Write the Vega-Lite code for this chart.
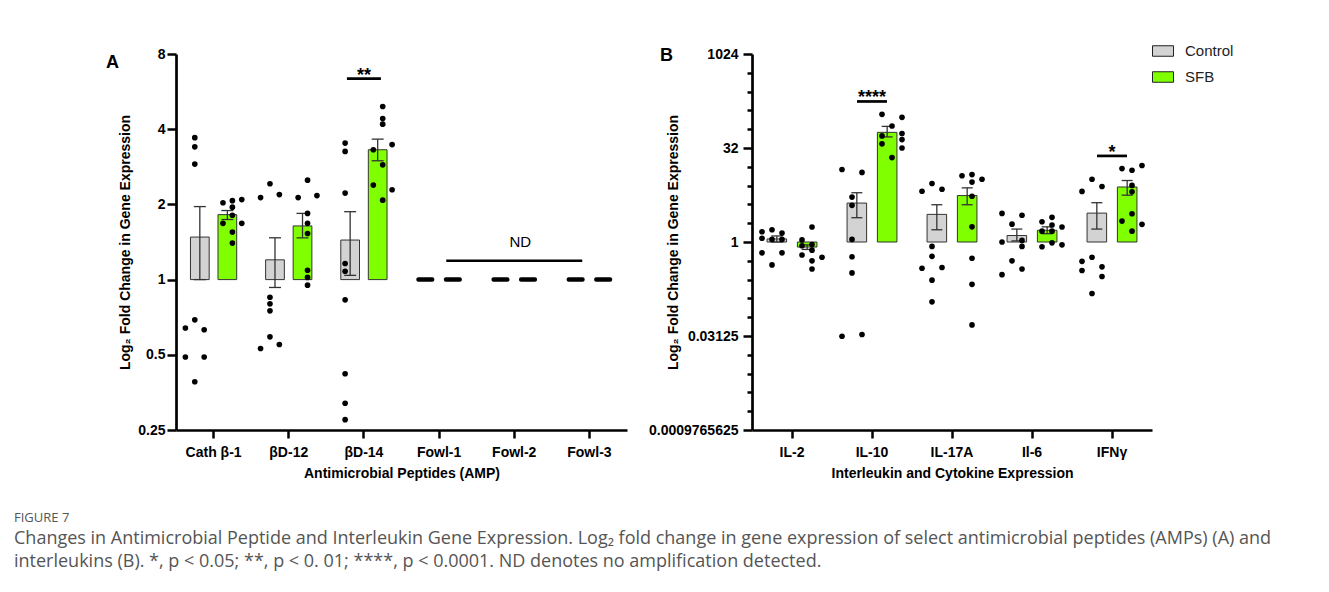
{
  "$schema": "https://vega.github.io/schema/vega-lite/v6.json",
  "padding": {"left": 14, "top": 40, "right": 5, "bottom": 5},
  "background": "white",
  "config": {
    "view": {"stroke": null},
    "axis": {
      "domainColor": "black", "domainWidth": 2.7, "domainOpacity": 1, "tickColor": "black", "tickWidth": 2.5, "tickOpacity": 1,
      "labelFont": "Liberation Sans", "labelFontWeight": "bold", "labelFontSize": 14, "labelColor": "black",
      "titleFont": "Liberation Sans", "titleFontWeight": "bold", "titleFontSize": 14, "titleColor": "black",
      "grid": false
    }
  },
  "datasets": {
    "ampBars": [
      {"gene": "Cath β-1", "group": "Control", "mean": 1.48, "lo": 1.0, "hi": 1.96},
      {"gene": "Cath β-1", "group": "SFB", "mean": 1.82, "lo": 1.74, "hi": 1.89},
      {"gene": "βD-12", "group": "Control", "mean": 1.2, "lo": 0.93, "hi": 1.47},
      {"gene": "βD-12", "group": "SFB", "mean": 1.64, "lo": 1.47, "hi": 1.84},
      {"gene": "βD-14", "group": "Control", "mean": 1.44, "lo": 1.04, "hi": 1.87},
      {"gene": "βD-14", "group": "SFB", "mean": 3.31, "lo": 2.99, "hi": 3.65}
    ],
    "ampND": [
      {"gene": "Fowl-1", "group": "Control", "v": 1}, {"gene": "Fowl-1", "group": "SFB", "v": 1},
      {"gene": "Fowl-2", "group": "Control", "v": 1}, {"gene": "Fowl-2", "group": "SFB", "v": 1},
      {"gene": "Fowl-3", "group": "Control", "v": 1}, {"gene": "Fowl-3", "group": "SFB", "v": 1}
    ],
    "ampPts": [
      {"gene": "Cath β-1", "group": "Control", "col": "C", "v": 3.7},
      {"gene": "Cath β-1", "group": "Control", "col": "C", "v": 3.4},
      {"gene": "Cath β-1", "group": "Control", "col": "C", "v": 2.9},
      {"gene": "Cath β-1", "group": "Control", "col": "L", "v": 0.64},
      {"gene": "Cath β-1", "group": "Control", "col": "C", "v": 0.69},
      {"gene": "Cath β-1", "group": "Control", "col": "R", "v": 0.63},
      {"gene": "Cath β-1", "group": "Control", "col": "L", "v": 0.49},
      {"gene": "Cath β-1", "group": "Control", "col": "R", "v": 0.49},
      {"gene": "Cath β-1", "group": "Control", "col": "C", "v": 0.39},
      {"gene": "Cath β-1", "group": "SFB", "col": "R", "v": 2.09},
      {"gene": "Cath β-1", "group": "SFB", "col": "C", "v": 2.07},
      {"gene": "Cath β-1", "group": "SFB", "col": "L", "v": 2.03},
      {"gene": "Cath β-1", "group": "SFB", "col": "C", "v": 1.95},
      {"gene": "Cath β-1", "group": "SFB", "col": "C", "v": 1.81},
      {"gene": "Cath β-1", "group": "SFB", "col": "L", "v": 1.68},
      {"gene": "Cath β-1", "group": "SFB", "col": "R", "v": 1.68},
      {"gene": "Cath β-1", "group": "SFB", "col": "C", "v": 1.55},
      {"gene": "Cath β-1", "group": "SFB", "col": "C", "v": 1.4},
      {"gene": "βD-12", "group": "Control", "col": "C", "v": 2.42},
      {"gene": "βD-12", "group": "Control", "col": "L", "v": 2.13},
      {"gene": "βD-12", "group": "Control", "col": "R", "v": 2.19},
      {"gene": "βD-12", "group": "Control", "col": "C", "v": 0.85},
      {"gene": "βD-12", "group": "Control", "col": "C", "v": 0.8},
      {"gene": "βD-12", "group": "Control", "col": "C", "v": 0.75},
      {"gene": "βD-12", "group": "Control", "col": "C", "v": 0.59},
      {"gene": "βD-12", "group": "Control", "col": "L", "v": 0.53},
      {"gene": "βD-12", "group": "Control", "col": "R", "v": 0.55},
      {"gene": "βD-12", "group": "SFB", "col": "C", "v": 2.5},
      {"gene": "βD-12", "group": "SFB", "col": "L", "v": 2.13},
      {"gene": "βD-12", "group": "SFB", "col": "R", "v": 2.17},
      {"gene": "βD-12", "group": "SFB", "col": "C", "v": 1.84},
      {"gene": "βD-12", "group": "SFB", "col": "C", "v": 1.68},
      {"gene": "βD-12", "group": "SFB", "col": "C", "v": 1.53},
      {"gene": "βD-12", "group": "SFB", "col": "C", "v": 1.09},
      {"gene": "βD-12", "group": "SFB", "col": "C", "v": 1.02},
      {"gene": "βD-12", "group": "SFB", "col": "C", "v": 0.95},
      {"gene": "βD-14", "group": "Control", "col": "C", "v": 3.52},
      {"gene": "βD-14", "group": "Control", "col": "C", "v": 3.26},
      {"gene": "βD-14", "group": "Control", "col": "C", "v": 2.22},
      {"gene": "βD-14", "group": "Control", "col": "C", "v": 1.16},
      {"gene": "βD-14", "group": "Control", "col": "C", "v": 1.08},
      {"gene": "βD-14", "group": "Control", "col": "C", "v": 0.83},
      {"gene": "βD-14", "group": "Control", "col": "C", "v": 0.42},
      {"gene": "βD-14", "group": "Control", "col": "C", "v": 0.32},
      {"gene": "βD-14", "group": "Control", "col": "C", "v": 0.275},
      {"gene": "βD-14", "group": "SFB", "col": "C", "v": 4.93},
      {"gene": "βD-14", "group": "SFB", "col": "C", "v": 4.41},
      {"gene": "βD-14", "group": "SFB", "col": "C", "v": 4.19},
      {"gene": "βD-14", "group": "SFB", "col": "L", "v": 3.31},
      {"gene": "βD-14", "group": "SFB", "col": "R", "v": 3.47},
      {"gene": "βD-14", "group": "SFB", "col": "C", "v": 2.88},
      {"gene": "βD-14", "group": "SFB", "col": "L", "v": 2.39},
      {"gene": "βD-14", "group": "SFB", "col": "R", "v": 2.29},
      {"gene": "βD-14", "group": "SFB", "col": "C", "v": 2.08}
    ],
    "ilBars": [
      {"gene": "IL-2", "group": "Control", "mean": 1.12, "lo": 1.0, "hi": 1.25},
      {"gene": "IL-2", "group": "SFB", "mean": 0.83, "lo": 0.76, "hi": 0.9},
      {"gene": "IL-10", "group": "Control", "mean": 4.2, "lo": 2.45, "hi": 6.15},
      {"gene": "IL-10", "group": "SFB", "mean": 57, "lo": 48.2, "hi": 71},
      {"gene": "IL-17A", "group": "Control", "mean": 2.77, "lo": 1.57, "hi": 3.95},
      {"gene": "IL-17A", "group": "SFB", "mean": 5.54, "lo": 3.95, "hi": 7.36},
      {"gene": "Il-6", "group": "Control", "mean": 1.27, "lo": 1.04, "hi": 1.61},
      {"gene": "Il-6", "group": "SFB", "mean": 1.54, "lo": 1.36, "hi": 1.75},
      {"gene": "IFNγ", "group": "Control", "mean": 2.9, "lo": 1.61, "hi": 4.26},
      {"gene": "IFNγ", "group": "SFB", "mean": 7.6, "lo": 5.62, "hi": 9.65}
    ],
    "ilPts": [
      {"gene": "IL-2", "group": "Control", "col": "L", "v": 1.46},
      {"gene": "IL-2", "group": "Control", "col": "C", "v": 1.57},
      {"gene": "IL-2", "group": "Control", "col": "R", "v": 1.39},
      {"gene": "IL-2", "group": "Control", "col": "L", "v": 1.15},
      {"gene": "IL-2", "group": "Control", "col": "C", "v": 1.1},
      {"gene": "IL-2", "group": "Control", "col": "R", "v": 1.1},
      {"gene": "IL-2", "group": "Control", "col": "L", "v": 0.67},
      {"gene": "IL-2", "group": "Control", "col": "R", "v": 0.67},
      {"gene": "IL-2", "group": "Control", "col": "C", "v": 0.43},
      {"gene": "IL-2", "group": "SFB", "col": "C", "v": 1.74},
      {"gene": "IL-2", "group": "SFB", "col": "L", "v": 1.08},
      {"gene": "IL-2", "group": "SFB", "col": "C", "v": 0.91},
      {"gene": "IL-2", "group": "SFB", "col": "L", "v": 0.87},
      {"gene": "IL-2", "group": "SFB", "col": "C", "v": 0.74},
      {"gene": "IL-2", "group": "SFB", "col": "L", "v": 0.62},
      {"gene": "IL-2", "group": "SFB", "col": "R", "v": 0.57},
      {"gene": "IL-2", "group": "SFB", "col": "C", "v": 0.5},
      {"gene": "IL-2", "group": "SFB", "col": "C", "v": 0.37},
      {"gene": "IL-10", "group": "Control", "col": "L", "v": 14.5},
      {"gene": "IL-10", "group": "Control", "col": "R", "v": 13.0},
      {"gene": "IL-10", "group": "Control", "col": "C", "v": 5.24},
      {"gene": "IL-10", "group": "Control", "col": "C", "v": 3.86},
      {"gene": "IL-10", "group": "Control", "col": "C", "v": 1.1},
      {"gene": "IL-10", "group": "Control", "col": "C", "v": 0.58},
      {"gene": "IL-10", "group": "Control", "col": "C", "v": 0.32},
      {"gene": "IL-10", "group": "Control", "col": "L", "v": 0.031},
      {"gene": "IL-10", "group": "Control", "col": "R", "v": 0.033},
      {"gene": "IL-10", "group": "SFB", "col": "L", "v": 110.6},
      {"gene": "IL-10", "group": "SFB", "col": "R", "v": 99},
      {"gene": "IL-10", "group": "SFB", "col": "C", "v": 72},
      {"gene": "IL-10", "group": "SFB", "col": "R", "v": 54.6},
      {"gene": "IL-10", "group": "SFB", "col": "L", "v": 49.9},
      {"gene": "IL-10", "group": "SFB", "col": "R", "v": 43.7},
      {"gene": "IL-10", "group": "SFB", "col": "L", "v": 37.3},
      {"gene": "IL-10", "group": "SFB", "col": "R", "v": 32},
      {"gene": "IL-10", "group": "SFB", "col": "C", "v": 22.5},
      {"gene": "IL-17A", "group": "Control", "col": "C", "v": 8.63},
      {"gene": "IL-17A", "group": "Control", "col": "L", "v": 6.5},
      {"gene": "IL-17A", "group": "Control", "col": "R", "v": 7.0},
      {"gene": "IL-17A", "group": "Control", "col": "C", "v": 0.85},
      {"gene": "IL-17A", "group": "Control", "col": "C", "v": 0.59},
      {"gene": "IL-17A", "group": "Control", "col": "L", "v": 0.38},
      {"gene": "IL-17A", "group": "Control", "col": "R", "v": 0.39},
      {"gene": "IL-17A", "group": "Control", "col": "C", "v": 0.245},
      {"gene": "IL-17A", "group": "Control", "col": "C", "v": 0.11},
      {"gene": "IL-17A", "group": "SFB", "col": "L", "v": 11.5},
      {"gene": "IL-17A", "group": "SFB", "col": "C", "v": 12.0},
      {"gene": "IL-17A", "group": "SFB", "col": "R", "v": 10.1},
      {"gene": "IL-17A", "group": "SFB", "col": "C", "v": 9.1},
      {"gene": "IL-17A", "group": "SFB", "col": "C", "v": 5.4},
      {"gene": "IL-17A", "group": "SFB", "col": "C", "v": 1.75},
      {"gene": "IL-17A", "group": "SFB", "col": "C", "v": 0.55},
      {"gene": "IL-17A", "group": "SFB", "col": "C", "v": 0.21},
      {"gene": "IL-17A", "group": "SFB", "col": "C", "v": 0.047},
      {"gene": "Il-6", "group": "Control", "col": "L", "v": 2.87},
      {"gene": "Il-6", "group": "Control", "col": "R", "v": 2.68},
      {"gene": "Il-6", "group": "Control", "col": "C", "v": 1.93},
      {"gene": "Il-6", "group": "Control", "col": "L", "v": 1.0},
      {"gene": "Il-6", "group": "Control", "col": "R", "v": 1.06},
      {"gene": "Il-6", "group": "Control", "col": "R", "v": 0.85},
      {"gene": "Il-6", "group": "Control", "col": "C", "v": 0.5},
      {"gene": "Il-6", "group": "Control", "col": "R", "v": 0.37},
      {"gene": "Il-6", "group": "Control", "col": "L", "v": 0.3},
      {"gene": "Il-6", "group": "SFB", "col": "C", "v": 2.48},
      {"gene": "Il-6", "group": "SFB", "col": "L", "v": 2.11},
      {"gene": "Il-6", "group": "SFB", "col": "R", "v": 1.74},
      {"gene": "Il-6", "group": "SFB", "col": "C", "v": 1.87},
      {"gene": "Il-6", "group": "SFB", "col": "L", "v": 1.49},
      {"gene": "Il-6", "group": "SFB", "col": "C", "v": 1.49},
      {"gene": "Il-6", "group": "SFB", "col": "C", "v": 0.97},
      {"gene": "Il-6", "group": "SFB", "col": "R", "v": 0.9},
      {"gene": "Il-6", "group": "SFB", "col": "L", "v": 0.84},
      {"gene": "IFNγ", "group": "Control", "col": "C", "v": 10.1},
      {"gene": "IFNγ", "group": "Control", "col": "L", "v": 6.45},
      {"gene": "IFNγ", "group": "Control", "col": "R", "v": 7.73},
      {"gene": "IFNγ", "group": "Control", "col": "C", "v": 0.57},
      {"gene": "IFNγ", "group": "Control", "col": "L", "v": 0.49},
      {"gene": "IFNγ", "group": "Control", "col": "R", "v": 0.4},
      {"gene": "IFNγ", "group": "Control", "col": "L", "v": 0.35},
      {"gene": "IFNγ", "group": "Control", "col": "R", "v": 0.28},
      {"gene": "IFNγ", "group": "Control", "col": "C", "v": 0.15},
      {"gene": "IFNγ", "group": "SFB", "col": "L", "v": 15},
      {"gene": "IFNγ", "group": "SFB", "col": "C", "v": 14.1},
      {"gene": "IFNγ", "group": "SFB", "col": "R", "v": 16.8},
      {"gene": "IFNγ", "group": "SFB", "col": "C", "v": 8.06},
      {"gene": "IFNγ", "group": "SFB", "col": "C", "v": 6.36},
      {"gene": "IFNγ", "group": "SFB", "col": "C", "v": 2.83},
      {"gene": "IFNγ", "group": "SFB", "col": "L", "v": 2.16},
      {"gene": "IFNγ", "group": "SFB", "col": "R", "v": 1.92},
      {"gene": "IFNγ", "group": "SFB", "col": "C", "v": 1.49}
    ]
  },
  "title": {
    "text": "FIGURE 7",
    "subtitle": [
      "Changes in Antimicrobial Peptide and Interleukin Gene Expression. Log₂ fold change in gene expression of select antimicrobial peptides (AMPs) (A) and",
      "interleukins (B). *, p < 0.05; **, p < 0. 01; ****, p < 0.0001. ND denotes no amplification detected."
    ],
    "orient": "bottom", "anchor": "start", "frame": "bounds", "dx": -92, "offset": 32,
    "font": "Open Sans", "fontSize": 13, "fontWeight": "normal", "color": "#555555",
    "subtitleFont": "Open Sans", "subtitleFontSize": 18, "subtitleColor": "#555555",
    "subtitleLineHeight": 23, "subtitlePadding": 5
  },
  "spacing": 21,
  "resolve": {"scale": {"fill": "independent"}, "legend": {"fill": "independent"}},
  "hconcat": [
    {
      "width": 451, "height": 376,
      "title": {"text": "A", "anchor": "start", "frame": "group", "font": "Liberation Sans", "fontSize": 18, "fontWeight": "bold", "color": "black", "baseline": "alphabetic", "offset": 0, "dx": -70, "dy": 39},
      "resolve": {"scale": {"xOffset": "independent"}},
      "layer": [
        {
          "data": {"name": "ampBars"},
          "mark": {"type": "bar", "stroke": "#333333", "strokeWidth": 1},
          "encoding": {
            "x": {"field": "gene", "type": "nominal", "title": "Antimicrobial Peptides (AMP)",
              "scale": {"domain": ["Cath β-1", "βD-12", "βD-14", "Fowl-1", "Fowl-2", "Fowl-3"], "paddingInner": 0, "paddingOuter": 0},
              "axis": {"labelAngle": 0, "tickSize": 8, "labelPadding": 7, "titlePadding": 7, "domainColor": "black", "tickColor": "black"}},
            "xOffset": {"field": "group", "type": "nominal", "scale": {"domain": ["Control", "SFB"], "paddingInner": 0.32, "paddingOuter": 0.525}},
            "y": {"field": "mean", "type": "quantitative", "title": "Log₂ Fold Change in Gene Expression",
              "scale": {"type": "log", "base": 2, "domain": [0.25, 8], "nice": false},
              "axis": {"values": [0.25, 0.5, 1, 2, 4, 8], "labelExpr": "'' + datum.value", "tickSize": 9, "labelPadding": 2, "titleX": -51, "titleBaseline": "middle", "domainColor": "black", "tickColor": "black"}},
            "y2": {"datum": 1},
            "fill": {"field": "group", "type": "nominal", "scale": {"domain": ["Control", "SFB"], "range": ["#D3D3D3", "#80FF00"]}, "legend": null}
          }
        },
        {
          "data": {"name": "ampBars"},
          "mark": {"type": "rule", "color": "#333333", "strokeWidth": 1.3},
          "encoding": {
            "x": {"field": "gene", "type": "nominal", "title": "Antimicrobial Peptides (AMP)"},
            "xOffset": {"field": "group", "type": "nominal", "scale": {"domain": ["Control", "SFB"], "paddingInner": 0.32, "paddingOuter": 0.525}},
            "y": {"field": "lo", "type": "quantitative", "title": "Log₂ Fold Change in Gene Expression"},
            "y2": {"field": "hi"}
          }
        },
        {
          "data": {"name": "ampBars"},
          "mark": {"type": "tick", "color": "#333333", "opacity": 1, "thickness": 1.3, "size": 12},
          "encoding": {
            "x": {"field": "gene", "type": "nominal", "title": "Antimicrobial Peptides (AMP)"},
            "xOffset": {"field": "group", "type": "nominal", "scale": {"domain": ["Control", "SFB"], "paddingInner": 0.32, "paddingOuter": 0.525}},
            "y": {"field": "hi", "type": "quantitative", "title": "Log₂ Fold Change in Gene Expression"}
          }
        },
        {
          "data": {"name": "ampBars"},
          "mark": {"type": "tick", "color": "#333333", "opacity": 1, "thickness": 1.3, "size": 12},
          "encoding": {
            "x": {"field": "gene", "type": "nominal", "title": "Antimicrobial Peptides (AMP)"},
            "xOffset": {"field": "group", "type": "nominal", "scale": {"domain": ["Control", "SFB"], "paddingInner": 0.32, "paddingOuter": 0.525}},
            "y": {"field": "lo", "type": "quantitative", "title": "Log₂ Fold Change in Gene Expression"}
          }
        },
        {
          "mark": {"type": "rule", "color": "black", "strokeWidth": 2.7},
          "encoding": {"y": {"datum": 1, "type": "quantitative"}}
        },
        {
          "data": {"name": "ampND"},
          "mark": {"type": "tick", "color": "black", "opacity": 1, "thickness": 4.5, "size": 18, "cornerRadius": 2},
          "encoding": {
            "x": {"field": "gene", "type": "nominal", "title": "Antimicrobial Peptides (AMP)"},
            "xOffset": {"field": "group", "type": "nominal", "scale": {"domain": ["Control", "SFB"], "paddingInner": 0.32, "paddingOuter": 0.525}},
            "y": {"field": "v", "type": "quantitative", "title": "Log₂ Fold Change in Gene Expression"}
          }
        },
        {
          "data": {"name": "ampPts"},
          "transform": [{"calculate": "datum.group + datum.col", "as": "sub"}],
          "mark": {"type": "point", "filled": true, "color": "black", "opacity": 1, "size": 32},
          "encoding": {
            "x": {"field": "gene", "type": "nominal", "title": "Antimicrobial Peptides (AMP)"},
            "xOffset": {"field": "sub", "type": "nominal", "scale": {"type": "point", "domain": ["ControlL", "ControlC", "ControlR", "gap", "SFBL", "SFBC", "SFBR"], "padding": 2.457}},
            "y": {"field": "v", "type": "quantitative", "title": "Log₂ Fold Change in Gene Expression"}
          }
        },
        {
          "data": {"values": [{"gene": "βD-14", "y": 6.37, "label": "**"}]},
          "layer": [
            {"mark": {"type": "tick", "color": "black", "opacity": 1, "thickness": 2.7, "size": 34}},
            {"mark": {"type": "text", "font": "Liberation Sans", "fontWeight": "bold", "fontSize": 18, "baseline": "alphabetic", "dy": 2}, "encoding": {"text": {"field": "label"}}}
          ],
          "encoding": {
            "x": {"field": "gene", "type": "nominal", "title": "Antimicrobial Peptides (AMP)"},
            "y": {"field": "y", "type": "quantitative", "title": "Log₂ Fold Change in Gene Expression"}
          }
        },
        {
          "data": {"values": [{"gene": "Fowl-2", "y": 1.19, "ty": 1.35, "label": "ND"}]},
          "layer": [
            {"mark": {"type": "tick", "color": "black", "opacity": 1, "thickness": 2.7, "size": 136},
             "encoding": {"y": {"field": "y", "type": "quantitative", "title": "Log₂ Fold Change in Gene Expression"}}},
            {"mark": {"type": "text", "font": "Liberation Sans", "fontSize": 15, "baseline": "alphabetic", "dx": 6},
             "encoding": {"y": {"field": "ty", "type": "quantitative", "title": "Log₂ Fold Change in Gene Expression"}, "text": {"field": "label"}}}
          ],
          "encoding": {
            "x": {"field": "gene", "type": "nominal", "title": "Antimicrobial Peptides (AMP)"}
          }
        }
      ]
    },
    {
      "width": 400, "height": 376,
      "title": {"text": "B", "anchor": "start", "frame": "group", "font": "Liberation Sans", "fontSize": 18, "fontWeight": "bold", "color": "black", "baseline": "alphabetic", "offset": 0, "dx": -92, "dy": 39},
      "resolve": {"scale": {"xOffset": "independent"}},
      "layer": [
        {
          "data": {"name": "ilBars"},
          "mark": {"type": "bar", "stroke": "#333333", "strokeWidth": 1},
          "encoding": {
            "x": {"field": "gene", "type": "nominal", "title": "Interleukin and Cytokine Expression",
              "scale": {"domain": ["IL-2", "IL-10", "IL-17A", "Il-6", "IFNγ"], "paddingInner": 0, "paddingOuter": 0},
              "axis": {"labelAngle": 0, "tickSize": 8, "labelPadding": 7, "titlePadding": 7, "domainColor": "black", "tickColor": "black"}},
            "xOffset": {"field": "group", "type": "nominal", "scale": {"domain": ["Control", "SFB"], "paddingInner": 0.355, "paddingOuter": 0.496}},
            "y": {"field": "mean", "type": "quantitative", "title": "Log₂ Fold Change in Gene Expression",
              "scale": {"type": "log", "base": 2, "domain": [0.0009765625, 1024], "nice": false},
              "axis": {
                "values": [0.0009765625, 0.001953125, 0.00390625, 0.0078125, 0.015625, 0.03125, 0.0625, 0.125, 0.25, 0.5, 1, 2, 4, 8, 16, 32, 64, 128, 256, 512, 1024],
                "labelExpr": "abs(round(log(datum.value) / LN2)) % 5 == 0 ? '' + datum.value : ''",
                "tickSize": {"condition": {"test": "abs(round(log(datum.value) / LN2)) % 5 == 0", "value": 9}, "value": 5},
                "labelPadding": 5, "titleX": -79, "titleBaseline": "middle", "domainColor": "black", "tickColor": "black"}},
            "y2": {"datum": 1},
            "fill": {"field": "group", "type": "nominal", "scale": {"domain": ["Control", "SFB"], "range": ["#D3D3D3", "#80FF00"]},
              "legend": {"title": null, "orient": "none", "legendX": 400, "legendY": -14, "symbolType": "M-1,-0.5H1V0.5H-1Z", "symbolSize": 441, "symbolStrokeColor": "#222222", "symbolStrokeWidth": 1, "symbolOpacity": 1, "labelFont": "Liberation Sans", "labelFontSize": 15, "labelColor": "#222222", "labelOffset": 11, "rowPadding": 7}}
          }
        },
        {
          "data": {"name": "ilBars"},
          "mark": {"type": "rule", "color": "#333333", "strokeWidth": 1.3},
          "encoding": {
            "x": {"field": "gene", "type": "nominal", "title": "Interleukin and Cytokine Expression"},
            "xOffset": {"field": "group", "type": "nominal", "scale": {"domain": ["Control", "SFB"], "paddingInner": 0.355, "paddingOuter": 0.496}},
            "y": {"field": "lo", "type": "quantitative", "title": "Log₂ Fold Change in Gene Expression"},
            "y2": {"field": "hi"}
          }
        },
        {
          "data": {"name": "ilBars"},
          "mark": {"type": "tick", "color": "#333333", "opacity": 1, "thickness": 1.3, "size": 11},
          "encoding": {
            "x": {"field": "gene", "type": "nominal", "title": "Interleukin and Cytokine Expression"},
            "xOffset": {"field": "group", "type": "nominal", "scale": {"domain": ["Control", "SFB"], "paddingInner": 0.355, "paddingOuter": 0.496}},
            "y": {"field": "hi", "type": "quantitative", "title": "Log₂ Fold Change in Gene Expression"}
          }
        },
        {
          "data": {"name": "ilBars"},
          "mark": {"type": "tick", "color": "#333333", "opacity": 1, "thickness": 1.3, "size": 11},
          "encoding": {
            "x": {"field": "gene", "type": "nominal", "title": "Interleukin and Cytokine Expression"},
            "xOffset": {"field": "group", "type": "nominal", "scale": {"domain": ["Control", "SFB"], "paddingInner": 0.355, "paddingOuter": 0.496}},
            "y": {"field": "lo", "type": "quantitative", "title": "Log₂ Fold Change in Gene Expression"}
          }
        },
        {
          "mark": {"type": "rule", "color": "black", "strokeWidth": 2.7},
          "encoding": {"y": {"datum": 1, "type": "quantitative"}}
        },
        {
          "data": {"name": "ilPts"},
          "transform": [{"calculate": "datum.group + datum.col", "as": "sub"}],
          "mark": {"type": "point", "filled": true, "color": "black", "opacity": 1, "size": 32},
          "encoding": {
            "x": {"field": "gene", "type": "nominal", "title": "Interleukin and Cytokine Expression"},
            "xOffset": {"field": "sub", "type": "nominal", "scale": {"type": "point", "domain": ["ControlL", "ControlC", "ControlR", "gap", "SFBL", "SFBC", "SFBR"], "padding": 2.274}},
            "y": {"field": "v", "type": "quantitative", "title": "Log₂ Fold Change in Gene Expression"}
          }
        },
        {
          "data": {"values": [{"gene": "IL-10", "y": 178, "label": "****"}, {"gene": "IFNγ", "y": 23.9, "label": "*"}]},
          "layer": [
            {"mark": {"type": "tick", "color": "black", "opacity": 1, "thickness": 2.7, "size": 30}},
            {"mark": {"type": "text", "font": "Liberation Sans", "fontWeight": "bold", "fontSize": 18, "baseline": "alphabetic", "dy": 2}, "encoding": {"text": {"field": "label"}}}
          ],
          "encoding": {
            "x": {"field": "gene", "type": "nominal", "title": "Interleukin and Cytokine Expression"},
            "y": {"field": "y", "type": "quantitative", "title": "Log₂ Fold Change in Gene Expression"}
          }
        }
      ]
    }
  ]
}
